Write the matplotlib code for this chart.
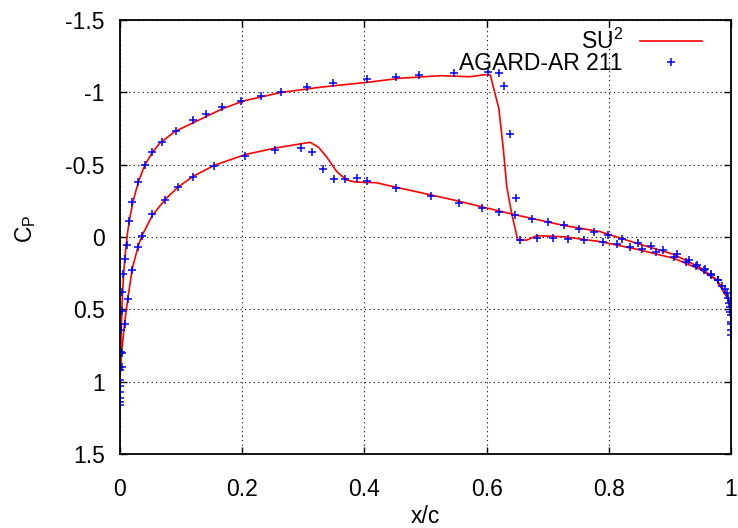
import numpy as np
import matplotlib
matplotlib.use("Agg")
import matplotlib.pyplot as plt

plt.rcParams['font.family'] = ['Liberation Sans', 'DejaVu Sans']
plt.rcParams['mathtext.fontset'] = 'custom'
plt.rcParams['mathtext.rm'] = 'Liberation Sans'
plt.rcParams['mathtext.it'] = 'Liberation Sans'
plt.rcParams['axes.unicode_minus'] = False

# experimental data (AGARD-AR 211), upper surface
exp_up_x = [0.000, 0.000, 0.000, 0.001, 0.0016, 0.004, 0.004, 0.005, 0.008, 0.011,
            0.015, 0.020, 0.030, 0.041, 0.053, 0.069, 0.091, 0.120, 0.140, 0.167,
            0.198, 0.230, 0.263, 0.306, 0.349, 0.405, 0.452, 0.489, 0.546, 0.602,
            0.620, 0.628, 0.638, 0.648, 0.655, 0.682, 0.708, 0.734, 0.759, 0.790,
            0.813, 0.835, 0.855, 0.878, 0.906, 0.927, 0.943, 0.955, 0.967, 0.978,
            0.986, 0.993, 0.996, 0.998, 1.000, 1.000]
exp_up_cp = [1.16, 1.115, 0.99, 0.797, 0.643, 0.509, 0.382, 0.258, 0.152, 0.055,
             -0.113, -0.240, -0.382, -0.498, -0.585, -0.659, -0.733, -0.809, -0.850, -0.896,
             -0.938, -0.975, -1.005, -1.039, -1.067, -1.090, -1.108, -1.118, -1.132, -1.140,
             -1.131, -1.046, -0.710, -0.272, 0.022, 0.010, 0.010, 0.012, 0.022, 0.035,
             0.047, 0.066, 0.083, 0.105, 0.136, 0.171, 0.200, 0.228, 0.263, 0.300,
             0.340, 0.389, 0.458, 0.516, 0.600, 0.640]

# experimental data, lower surface
exp_lo_x = [0.000, 0.000, 0.000, 0.000, 0.003, 0.003, 0.008, 0.013, 0.020, 0.030,
            0.036, 0.053, 0.074, 0.095, 0.120, 0.154, 0.205, 0.254, 0.297, 0.315,
            0.333, 0.350, 0.369, 0.388, 0.405, 0.452, 0.509, 0.555, 0.592, 0.620,
            0.646, 0.674, 0.700, 0.726, 0.751, 0.775, 0.799, 0.821, 0.848, 0.869,
            0.889, 0.911, 0.932, 0.945, 0.957, 0.968, 0.979, 0.990, 0.995, 0.998,
            1.000, 1.000, 1.000]
exp_lo_cp = [1.14, 1.07, 1.03, 0.919, 0.897, 0.800, 0.603, 0.431, 0.228, 0.071,
             -0.009, -0.157, -0.256, -0.348, -0.417, -0.491, -0.562, -0.600, -0.617, -0.585,
             -0.470, -0.403, -0.403, -0.408, -0.389, -0.339, -0.281, -0.233, -0.203, -0.175,
             -0.152, -0.125, -0.104, -0.082, -0.058, -0.035, -0.015, 0.011, 0.039, 0.062,
             0.090, 0.118, 0.159, 0.191, 0.224, 0.258, 0.297, 0.362, 0.424, 0.482,
             0.539, 0.585, 0.677]

# SU2 solution, upper surface
su2_up_x = [0.0, 0.001, 0.002, 0.004, 0.006, 0.009, 0.012, 0.016, 0.021, 0.030,
            0.041, 0.053, 0.065, 0.090, 0.120, 0.169, 0.202, 0.262, 0.327, 0.404,
            0.458, 0.524, 0.573, 0.597, 0.606, 0.620, 0.627, 0.633, 0.641, 0.651,
            0.666, 0.682, 0.726, 0.786, 0.846, 0.906, 0.949, 0.977, 0.993, 0.998]
su2_up_cp = [0.99, 0.80, 0.64, 0.40, 0.25, 0.10, -0.02, -0.13, -0.24, -0.38,
             -0.50, -0.585, -0.648, -0.730, -0.790, -0.889, -0.940, -0.998, -1.035, -1.069,
             -1.097, -1.115, -1.108, -1.122, -1.120, -0.889, -0.624, -0.348, -0.164, 0.021,
             0.021, -0.009, -0.002, 0.032, 0.085, 0.147, 0.223, 0.300, 0.410, 0.460]

# SU2 solution, lower surface
su2_lo_x = [0.0, 0.001, 0.003, 0.005, 0.008, 0.013, 0.020, 0.030, 0.036, 0.053,
            0.074, 0.095, 0.120, 0.154, 0.205, 0.254, 0.297, 0.311, 0.325, 0.338,
            0.355, 0.371, 0.385, 0.420, 0.436, 0.546, 0.640, 0.726, 0.786, 0.846,
            0.906, 0.949, 0.977, 0.993, 0.998]
su2_lo_cp = [0.99, 0.88, 0.78, 0.70, 0.58, 0.42, 0.22, 0.06, -0.01, -0.15,
             -0.26, -0.345, -0.42, -0.495, -0.57, -0.615, -0.645, -0.655, -0.620, -0.555,
             -0.451, -0.394, -0.380, -0.375, -0.359, -0.256, -0.160, -0.080, -0.037, 0.044,
             0.120, 0.210, 0.297, 0.413, 0.460]

x_ticks = [0, 0.2, 0.4, 0.6, 0.8, 1]
x_labels = ['0', '0.2', '0.4', '0.6', '0.8', '1']
y_ticks = [-1.5, -1, -0.5, 0, 0.5, 1, 1.5]
y_labels = ['-1.5', '-1', '-0.5', '0', '0.5', '1', '1.5']

fs = 16.5

fig = plt.figure(figsize=(7.38, 5.28), dpi=100)
ax = fig.add_axes([120/738, 74/528, 611/738, 434/528])

# one closed curve: lower surface from TE to LE, then upper surface to TE
su2_x = np.concatenate([su2_lo_x[::-1], su2_up_x])
su2_cp = np.concatenate([su2_lo_cp[::-1], su2_up_cp])
ax.plot(su2_x, su2_cp, color='#ff0000', lw=1.2, label='SU$^2$')

exp_x = np.concatenate([exp_up_x, exp_lo_x])
exp_cp = np.concatenate([exp_up_cp, exp_lo_cp])
ax.plot(exp_x, exp_cp, ls='none', marker='+', ms=6, mew=1.1,
        color='#0000ff', label='AGARD-AR 211')

ax.set_xlim(0, 1)
ax.set_ylim(1.5, -1.5)
ax.set_xticks(x_ticks)
ax.set_xticklabels(x_labels)
ax.set_yticks(y_ticks)
ax.set_yticklabels(y_labels)
ax.tick_params(direction='in', top=True, right=True, length=5, width=1,
               labelsize=fs)
ax.tick_params(axis='x', pad=17)
ax.tick_params(axis='y', pad=11)
ax.grid(True, color='black', ls=(0, (1, 3)), lw=0.8)
for s in ax.spines.values():
    s.set_linewidth(1.3)

ax.set_xlabel('x/c', fontsize=fs)
ax.xaxis.set_label_coords(0.5, -0.117)
ax.set_ylabel('C$_\\mathrm{P}$', fontsize=fs)
ax.yaxis.set_label_coords(-0.135, 0.52)

ax.legend(loc='upper right', bbox_to_anchor=(0.9525, 0.979), borderaxespad=0,
          borderpad=0, frameon=False, markerfirst=False, handlelength=2.7,
          handletextpad=0.75, labelspacing=-0.1, fontsize=fs)

fig.savefig('out.png', dpi=100)
